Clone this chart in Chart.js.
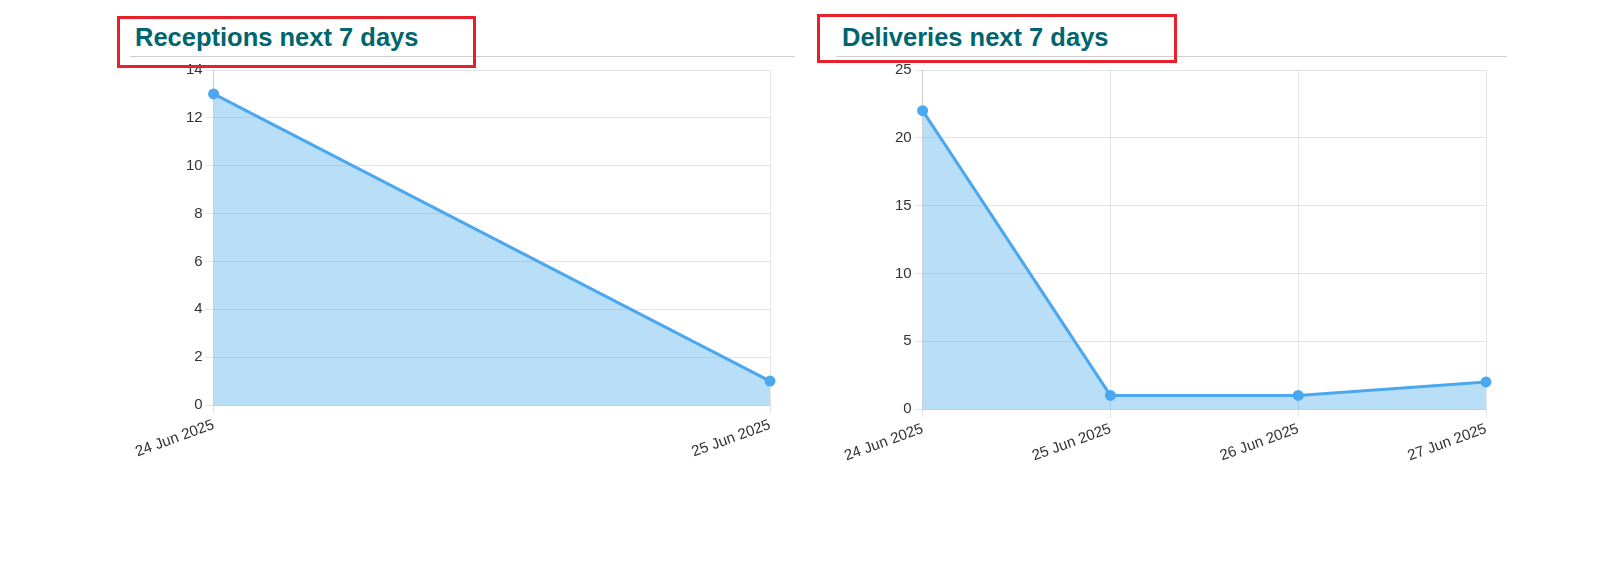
<!DOCTYPE html>
<html>
<head>
<meta charset="utf-8">
<script src="https://cdn.jsdelivr.net/npm/chart.js@4"></script>
<style>
  body{margin:0;background:#fff;font-family:"Liberation Sans",Arial,sans-serif;}
  .title{position:absolute;font-weight:bold;font-size:25.5px;color:#00666e;}
  .rule{position:absolute;height:1px;background:#cfcfcf;}
  .box{position:absolute;border:3px solid #e8202a;box-sizing:border-box;z-index:5;}
  .wrap{position:absolute;}
</style>
</head>
<body>
<div class="rule" style="left:130px;top:56px;width:665px"></div>
<div class="rule" style="left:836px;top:56px;width:671px"></div>
<div class="title" style="left:135px;top:23px">Receptions next 7 days</div>
<div class="title" style="left:842px;top:23px">Deliveries next 7 days</div>
<div class="box" style="left:117px;top:16px;width:359px;height:52px"></div>
<div class="box" style="left:817px;top:14px;width:360px;height:49px"></div>
<div class="wrap" style="left:133px;top:58px;width:647px;height:407px"><canvas id="recChart"></canvas></div>
<div class="wrap" style="left:842px;top:58px;width:654px;height:411px"><canvas id="delChart"></canvas></div>
<script>
const recLabels = ["24 Jun 2025","25 Jun 2025"];
const recValues = [13, 1];
const delLabels = ["24 Jun 2025","25 Jun 2025","26 Jun 2025","27 Jun 2025"];
const delValues = [22, 1, 1, 2];

Chart.defaults.font.family = '"Liberation Sans", Arial, sans-serif';
Chart.defaults.font.size = 15;
Chart.defaults.color = "#333";

function draw(id, labels, data, yMax, yStep){
  return new Chart(document.getElementById(id), {
    type: "line",
    data: { labels, datasets: [{
      data, fill: true, tension: 0,
      borderColor: "#4ba8f0", backgroundColor: "rgba(54,162,235,0.35)",
      pointBackgroundColor: "#4ba8f0", pointBorderColor: "#4ba8f0",
      borderWidth: 3, pointRadius: 4
    }]},
    options: {
      responsive: true, maintainAspectRatio: false, animation: false,
      layout: { padding: { top: 3, right: 10, bottom: 0, left: 0 } },
      plugins: { legend: { display: false }, tooltip: { enabled: false } },
      scales: {
        x: { grid: { color: "rgba(0,0,0,0.1)" },
             ticks: { minRotation: 20, maxRotation: 20 },
             afterFit: (s)=>{ s.height = 60; } },
        y: { beginAtZero: true, max: yMax, grid: { color: "rgba(0,0,0,0.1)" },
             ticks: { stepSize: yStep },
             afterFit: (s)=>{ s.width = 73; } }
      }
    }
  });
}

draw("recChart", recLabels, recValues, 14, 2);
draw("delChart", delLabels, delValues, 25, 5);
</script>
</body>
</html>
